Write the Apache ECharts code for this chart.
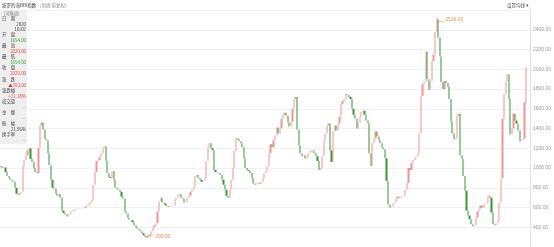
<!DOCTYPE html>
<html><head><meta charset="utf-8">
<script src="https://cdn.jsdelivr.net/npm/echarts@6/dist/echarts.min.js"></script>
<style>html,body{margin:0;padding:0;background:#fff}#c{width:554px;height:247px}</style>
</head><body><div id="c"></div>
<script>
// ---- data ----
const titleMain = '波罗的海BDI指数';
const titleSub = '（周线 前复权）';
const firstWeekUTC = Date.UTC(2014, 4, 2); // first weekly bar (Friday 2014/05/02), last 2020/10/02
// weekly candles: [open, close, low, high]
const ohlc = [
[1020,1010,1000,1030],[1010,1000,990,1020],[1000,1005,992,1015],[1005,960,955,1010],[960,920,912,965],
[920,905,898,928],[905,880,872,910],[880,870,860,888],[870,860,850,876],[860,800,795,865],
[800,740,735,805],[740,730,722,748],[730,745,726,752],[745,760,740,768],[760,1020,755,1030],
[1020,1080,1012,1090],[1080,1130,1075,1140],[1130,1180,1125,1190],[1180,1200,1170,1215],[1200,1090,1085,1205],
[1090,1060,1050,1100],[1060,1000,995,1065],[1000,960,952,1008],[960,950,940,968],[950,1200,945,1210],
[1200,1430,1195,1445],[1430,1460,1420,1484],[1460,1390,1380,1470],[1390,1300,1290,1398],[1300,1280,1270,1310],
[1280,1150,1140,1285],[1150,1030,1020,1155],[1030,880,870,1035],[880,800,790,885],[800,790,780,810],
[790,740,732,795],[740,720,712,748],[720,735,715,742],[735,700,692,740],[700,570,565,705],
[570,545,538,575],[545,530,522,550],[530,510,505,535],[510,530,507,535],[530,545,526,550],
[545,560,540,565],[560,570,555,575],[570,580,566,585],[580,585,575,590],[585,590,580,596],
[590,588,582,596],[588,590,584,595],[590,592,586,598],[592,595,588,600],[595,610,592,615],
[610,620,606,626],[620,625,615,632],[625,650,620,656],[650,680,646,686],[680,830,676,840],
[830,960,825,970],[960,1070,955,1080],[1070,1080,1060,1090],[1080,1110,1075,1120],[1110,1150,1105,1160],
[1150,1200,1145,1210],[1200,1220,1190,1230],[1220,1070,1062,1225],[1070,950,942,1075],[950,910,900,958],
[910,900,890,918],[900,970,895,980],[970,880,872,975],[880,800,792,885],[800,790,782,808],
[790,780,772,796],[780,760,752,786],[760,710,702,765],[710,690,682,716],[690,560,552,695],
[560,540,532,566],[540,490,484,545],[490,475,468,495],[475,470,462,480],[470,450,444,476],
[450,420,414,455],[420,400,394,425],[400,385,378,405],[385,375,368,390],[375,360,352,380],
[360,340,334,365],[340,320,314,345],[320,305,298,325],[305,298,290,310],[298,300,295,306],
[300,325,298,330],[325,360,322,365],[360,400,356,405],[400,420,395,426],[420,440,415,446],
[440,560,435,570],[560,660,555,670],[660,700,655,712],[700,650,645,705],[650,640,632,656],
[640,620,612,645],[620,615,608,626],[615,610,604,620],[610,618,606,624],[618,620,612,626],
[620,625,615,632],[625,680,620,686],[680,700,675,708],[700,725,695,732],[725,735,718,742],
[735,700,692,740],[700,690,682,706],[690,650,644,695],[650,660,645,666],[660,700,655,706],
[700,720,695,728],[720,760,715,766],[760,780,755,788],[780,810,775,818],[810,920,805,930],
[920,930,912,940],[930,900,892,936],[900,880,872,906],[880,860,852,886],[860,870,854,878],
[870,890,865,898],[890,1070,885,1080],[1070,1210,1065,1220],[1210,1250,1205,1260],[1250,1200,1192,1256],
[1200,1180,1172,1208],[1180,980,972,1185],[980,960,952,986],[960,955,946,966],[955,950,942,962],
[950,930,922,956],[930,880,872,935],[880,830,822,885],[830,780,772,835],[780,720,712,785],
[720,700,688,726],[700,780,695,786],[780,880,775,888],[880,1000,875,1010],[1000,1170,995,1180],
[1170,1300,1165,1335],[1300,1290,1280,1310],[1290,1270,1262,1298],[1270,1250,1242,1278],[1250,1210,1202,1256],
[1210,1100,1092,1215],[1100,1000,992,1105],[1000,980,972,1006],[980,970,962,986],[970,950,942,976],
[950,900,892,955],[900,840,832,905],[840,830,822,846],[830,850,826,856],[850,845,838,856],
[845,840,832,850],[840,860,836,866],[860,900,855,906],[900,950,895,956],[950,970,945,976],
[970,1020,965,1026],[1020,1150,1015,1160],[1150,1240,1145,1250],[1240,1210,1202,1246],[1210,1280,1205,1288],
[1280,1330,1275,1338],[1330,1410,1325,1420],[1410,1350,1342,1450],[1350,1400,1345,1408],[1400,1500,1395,1510],
[1500,1540,1495,1548],[1540,1560,1532,1570],[1560,1530,1522,1566],[1530,1460,1452,1535],[1460,1420,1412,1466],
[1420,1470,1415,1478],[1470,1600,1465,1610],[1600,1700,1595,1710],[1700,1720,1690,1743],[1720,1390,1382,1725],
[1390,1230,1222,1395],[1230,1150,1142,1235],[1150,1120,1112,1156],[1120,1130,1114,1138],[1130,1100,1092,1136],
[1100,1110,1094,1118],[1110,1150,1105,1158],[1150,1160,1145,1168],[1160,1180,1155,1188],[1180,1170,1162,1186],
[1170,1150,1142,1176],[1150,1120,1112,1156],[1120,1070,1062,1125],[1070,980,972,1075],[980,1000,975,1008],
[1000,1120,995,1128],[1120,1280,1115,1288],[1280,1350,1275,1358],[1350,1430,1345,1438],[1430,1450,1424,1458],
[1450,1180,1172,1455],[1180,1060,1052,1185],[1060,1370,1055,1378],[1370,1430,1365,1438],[1430,1380,1372,1436],
[1380,1450,1375,1458],[1450,1520,1445,1528],[1520,1650,1515,1658],[1650,1680,1645,1688],[1680,1700,1675,1708],
[1700,1750,1695,1774],[1750,1740,1732,1758],[1740,1720,1712,1746],[1720,1700,1692,1726],[1700,1600,1592,1705],
[1600,1540,1532,1606],[1540,1500,1492,1546],[1500,1400,1392,1505],[1400,1460,1395,1468],[1460,1520,1455,1528],
[1520,1570,1515,1578],[1570,1580,1562,1590],[1580,1540,1532,1586],[1540,1480,1472,1546],[1480,1450,1442,1486],
[1450,1150,1142,1455],[1150,1020,1012,1155],[1020,1250,1015,1258],[1250,1300,1245,1308],[1300,1370,1295,1378],
[1370,1320,1312,1376],[1320,1280,1272,1326],[1280,1250,1242,1286],[1250,1210,1202,1256],[1210,1190,1182,1216],
[1190,1100,1092,1195],[1100,870,862,1105],[870,630,622,875],[630,600,592,636],[600,610,595,616],
[610,640,605,646],[640,650,634,656],[650,690,645,696],[690,710,685,716],[710,700,692,716],
[700,705,694,712],[705,715,700,720],[715,720,710,726],[720,780,715,786],[780,850,775,856],
[850,1000,845,1008],[1000,980,972,1006],[980,1050,975,1056],[1050,1080,1045,1086],[1080,1100,1075,1106],
[1100,1120,1095,1126],[1120,1150,1115,1156],[1150,1350,1145,1358],[1350,1730,1345,1738],[1730,1850,1725,1858],
[1850,1870,1842,1880],[1870,2180,1865,2190],[2180,1900,1892,2185],[1900,1790,1782,1905],[1790,1880,1785,1888],
[1880,2080,1875,2088],[2080,2150,2075,2158],[2150,2380,2145,2390],[2380,2500,2375,2516],[2500,2320,2312,2505],
[2320,2130,2122,2325],[2130,1870,1862,2135],[1870,1800,1792,1876],[1800,1880,1795,1888],[1880,1860,1852,1886],
[1860,1820,1812,1866],[1820,1700,1692,1825],[1700,1470,1462,1705],[1470,1350,1342,1475],[1350,1290,1282,1356],
[1290,1300,1284,1308],[1300,1530,1295,1538],[1530,1550,1525,1558],[1550,1130,1122,1555],[1130,1090,1082,1136],
[1090,920,912,1095],[920,770,762,925],[770,570,562,775],[570,520,512,575],[520,480,472,525],
[480,430,422,485],[430,410,404,436],[410,420,405,426],[420,500,415,506],[500,560,495,566],
[560,590,555,596],[590,620,585,626],[620,600,592,626],[600,630,595,636],[630,640,625,646],
[640,650,634,656],[650,720,645,726],[720,700,692,726],[700,550,542,705],[550,430,422,555],
[430,420,410,436],[420,440,415,446],[440,470,435,476],[470,650,465,656],[650,900,645,908],
[900,1500,895,1510],[1500,1750,1495,1758],[1750,1880,1745,1888],[1880,1950,1875,1965],[1950,1700,1692,1955],
[1700,1340,1332,1705],[1340,1400,1335,1408],[1400,1550,1395,1558],[1550,1480,1472,1556],[1480,1450,1442,1486],
[1450,1380,1372,1456],[1380,1270,1262,1385],[1270,1280,1264,1286],[1280,1300,1275,1306],[1300,1667,1295,1675],
[1654,2020,1654,2020]
];
const yMin = 200, yMax = 2600, yStep = 200;
// info panel (last bar)
const panelLabels = ['日　期','开　盘','最　高','最　低','收　盘','涨　跌','涨跌幅','成交量','金　额','振　幅','换手率'];
const panelValues = ['2020','10/02','1654.00','2020.00','1654.00','2020.00','▲353.00','+21.18%','—','—','21.96%','—'];

// ---- build ----
const weekDates = ohlc.map((_, i) => {
  const d = new Date(firstWeekUTC + i * 7 * 86400000);
  return d.toISOString().slice(0, 10).replace(/-/g, '/');
});

const RED = '#e8353b', GREEN = '#359835', UP = '#f19494', CJK = '"Noto Sans CJK SC", sans-serif';
const labelY = [18.3, 34.3, 45.7, 56.7, 67.7, 79, 90, 101, 112.3, 123.3, 134.3];
const valueY = [24.3, 29.3, 40.3, 51.7, 62.3, 73.3, 85, 96, 107.3, 118.3, 129, 140];
const valueColor = ['#333','#333','#2a9d2a',RED,'#2a9d2a',RED,RED,RED,'#aaa','#7fb2e5','#333','#aaa'];

function txt(text, x, y, color, size, align) {
  return { type: 'text', x: x, y: y, silent: true, z: 100,
    style: { text: text, fill: color, font: size + 'px ' + CJK,
      textAlign: align || 'left', textVerticalAlign: 'middle', align: align || 'left', verticalAlign: 'middle' } };
}
const graphics = [
  { type: 'rect', shape: { x: 0, y: 10, width: 27, height: 134 }, style: { fill: 'rgba(238,238,238,0.92)' }, z: 90, silent: true },
  txt(titleMain, 2, 5, '#333', 4.5),
  txt(titleSub, 37, 5, '#888', 4.5),
  txt('设置均线 ▾', 507, 5, '#555', 4.5),
  txt('[可拖动]', 4, 13.3, '#777', 4.2)
];
panelLabels.forEach((t, i) => graphics.push(txt(t, 2, labelY[i], '#444', 4.4)));
panelValues.forEach((t, i) => graphics.push(txt(t, 26, valueY[i], valueColor[i], 4.4, 'right')));

const chart = echarts.init(document.getElementById('c'), null, { renderer: 'canvas' });
chart.setOption({
  animation: false,
  backgroundColor: '#fff',
  grid: { left: 0, top: 10, width: 533, height: 240 },
  xAxis: { type: 'category', data: weekDates, max: weekDates.length + 1, show: false },
  yAxis: {
    type: 'value', position: 'right', min: yMin, max: yMax, interval: yStep,
    axisLine: { show: true, lineStyle: { color: '#e2e2e2', width: 1 } },
    axisTick: { show: false },
    splitLine: { lineStyle: { color: '#f1f1f1', width: 1 } },
    axisLabel: { fontSize: 5, color: '#999', margin: 3, fontFamily: 'Liberation Sans',
      showMaxLabel: false, showMinLabel: false, formatter: v => v.toFixed(2) }
  },
  series: [{
    type: 'candlestick',
    data: ohlc,
    barWidth: 1.7,
    itemStyle: { color: UP, color0: GREEN, borderColor: UP, borderColor0: GREEN, borderWidth: 0 },
    markPoint: {
      symbol: 'path://M0,0L2,3L7,3',
      symbolSize: [7, 3],
      symbolKeepAspect: false,
      itemStyle: { color: 'transparent', borderColor: '#f08a4b', borderWidth: 0.8 },
      label: { show: true, position: 'right', distance: 1, color: '#f08a4b', fontSize: 5,
        fontFamily: 'Liberation Sans', formatter: p => Number(p.value).toFixed(2) },
      data: [
        { type: 'max', valueDim: 'highest', symbolOffset: [3.5, 1.5] },
        { type: 'min', valueDim: 'lowest', symbol: 'path://M0,3L2,0L7,0', symbolOffset: [3.5, -1.5] }
      ]
    }
  }],
  graphic: graphics
});
</script></body></html>
